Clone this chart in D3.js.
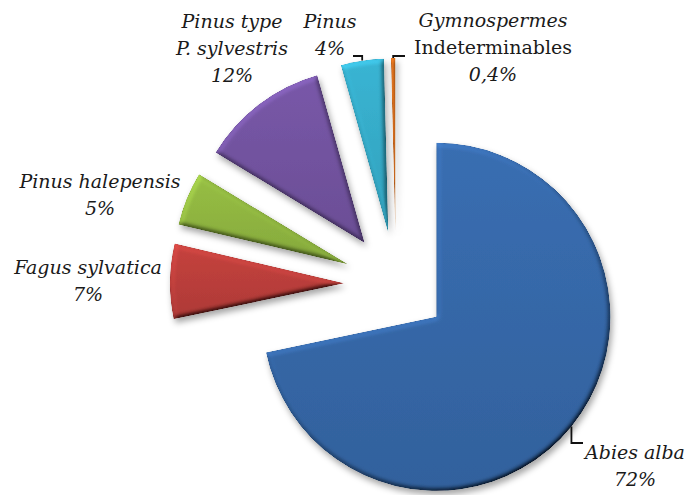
<!DOCTYPE html>
<html>
<head>
<meta charset="utf-8">
<script src="https://cdn.jsdelivr.net/npm/d3@7"></script>
<style>
  body { margin: 0; background: #fff; }
  svg { display: block; }
  text { font-family: "Palatino Linotype", "Book Antiqua", Palatino, "DejaVu Serif", serif; font-size: 19px; fill: #1a1a1a; }
</style>
</head>
<body>
<div id="chart"></div>
<script>
// data (percent of charcoal fragments)
const taxa = ["Abies alba", "Fagus sylvatica", "Pinus halepensis", "Pinus type P. sylvestris", "Pinus", "Gymnospermes Indeterminables"];
const values = [72, 7, 5, 12, 4, 0.4];
const labelLines = [["Abies alba"], ["Fagus sylvatica"], ["Pinus halepensis"], ["Pinus type", "P. sylvestris"], ["Pinus"], ["Gymnospermes", "Indeterminables"]];
const uprightLines = ["Indeterminables"];
const colors = ["#3566a6", "#b83d3a", "#8db23f", "#71529d", "#35a9c5", "#c8661c"];

const width = 687, height = 495;
const cx = 396, cy = 284, radius = 174, explode = 52;

// label anchors (center x, first baseline) and leader lines, by slice index
const labelPos = [
  {x: 635, y: 459, leader: {y: 443, x: 583}},
  {x: 88, y: 274},
  {x: 100, y: 188},
  {x: 232, y: 28},
  {x: 330, y: 28, leader: {y: 56, x: 353}},
  {x: 493, y: 27, leader: {y: 56, x: 405}}
];
const lineGap = 27;

const svg = d3.select("#chart")
  .append("svg")
  .attr("width", width)
  .attr("height", height);

const defs = svg.append("defs");

// bevel + shadow, roughly like the office "3D" pie style
const f = defs.append("filter")
  .attr("id", "bevel")
  .attr("filterUnits", "userSpaceOnUse")
  .attr("x", -500).attr("y", -500).attr("width", 1200).attr("height", 1200);
f.append("feGaussianBlur").attr("in", "SourceAlpha").attr("stdDeviation", 2.5).attr("result", "blur");
f.append("feDiffuseLighting").attr("in", "blur").attr("surfaceScale", 3.5).attr("diffuseConstant", 1)
  .attr("lighting-color", "#fff").attr("result", "diff")
  .append("feDistantLight").attr("azimuth", 235).attr("elevation", 50);
f.append("feComposite").attr("in", "diff").attr("in2", "SourceAlpha").attr("operator", "in").attr("result", "diffIn");
f.append("feComposite").attr("in", "SourceGraphic").attr("in2", "diffIn").attr("operator", "arithmetic")
  .attr("k1", 1.3).attr("k2", 0).attr("k3", 0).attr("k4", 0).attr("result", "lit");
f.append("feGaussianBlur").attr("in", "SourceAlpha").attr("stdDeviation", 3).attr("result", "sblur");
f.append("feOffset").attr("in", "sblur").attr("dx", 2).attr("dy", 4).attr("result", "soff");
f.append("feFlood").attr("flood-color", "#000").attr("flood-opacity", 0.35).attr("result", "sflood");
f.append("feComposite").attr("in", "sflood").attr("in2", "soff").attr("operator", "in").attr("result", "shadow");
const merge = f.append("feMerge");
merge.append("feMergeNode").attr("in", "shadow");
merge.append("feMergeNode").attr("in", "lit");

// soft top-to-bottom shading per slice
colors.forEach((c, i) => {
  const g = defs.append("linearGradient")
    .attr("id", "grad" + i)
    .attr("x1", 0).attr("y1", 0).attr("x2", 0).attr("y2", 1);
  g.append("stop").attr("offset", "0%").attr("stop-color", d3.color(c).brighter(0.2));
  g.append("stop").attr("offset", "100%").attr("stop-color", d3.color(c).darker(0.15));
});

const pie = d3.pie().sort(null).value(d => d);
const arcs = pie(values);

const arc = d3.arc().innerRadius(0).outerRadius(radius);

const mid = d => (d.startAngle + d.endAngle) / 2;
const shift = d => [explode * Math.sin(mid(d)), -explode * Math.cos(mid(d))];

const g = svg.append("g").attr("transform", `translate(${cx},${cy})`);

g.selectAll("path")
  .data(arcs)
  .join("path")
  .attr("transform", d => `translate(${shift(d)})`)
  .attr("d", arc)
  .attr("fill", (d, i) => `url(#grad${i})`)
  .attr("filter", "url(#bevel)");

// leader lines: from the middle of the outer arc, up/down then across to the label
arcs.forEach((d, i) => {
  const lp = labelPos[i];
  if (!lp.leader) return;
  const [sx, sy] = shift(d);
  const px = cx + sx + radius * Math.sin(mid(d));
  const py = cy + sy - radius * Math.cos(mid(d));
  svg.append("path")
    .attr("d", d3.line()([[px, py], [px, lp.leader.y], [lp.leader.x, lp.leader.y]]))
    .attr("fill", "none")
    .attr("stroke", "#111")
    .attr("stroke-width", 1.8);
});

// labels
const pct = v => String(v).replace(".", ",") + "%";

arcs.forEach((d, i) => {
  const lp = labelPos[i];
  const lines = labelLines[i].concat([pct(values[i])]);
  const t = svg.append("text")
    .attr("text-anchor", "middle");
  lines.forEach((ln, k) => {
    t.append("tspan")
      .attr("x", lp.x)
      .attr("y", lp.y + k * lineGap)
      .attr("font-style", uprightLines.includes(ln) ? "normal" : "italic")
      .text(ln);
  });
});
</script>
</body>
</html>
